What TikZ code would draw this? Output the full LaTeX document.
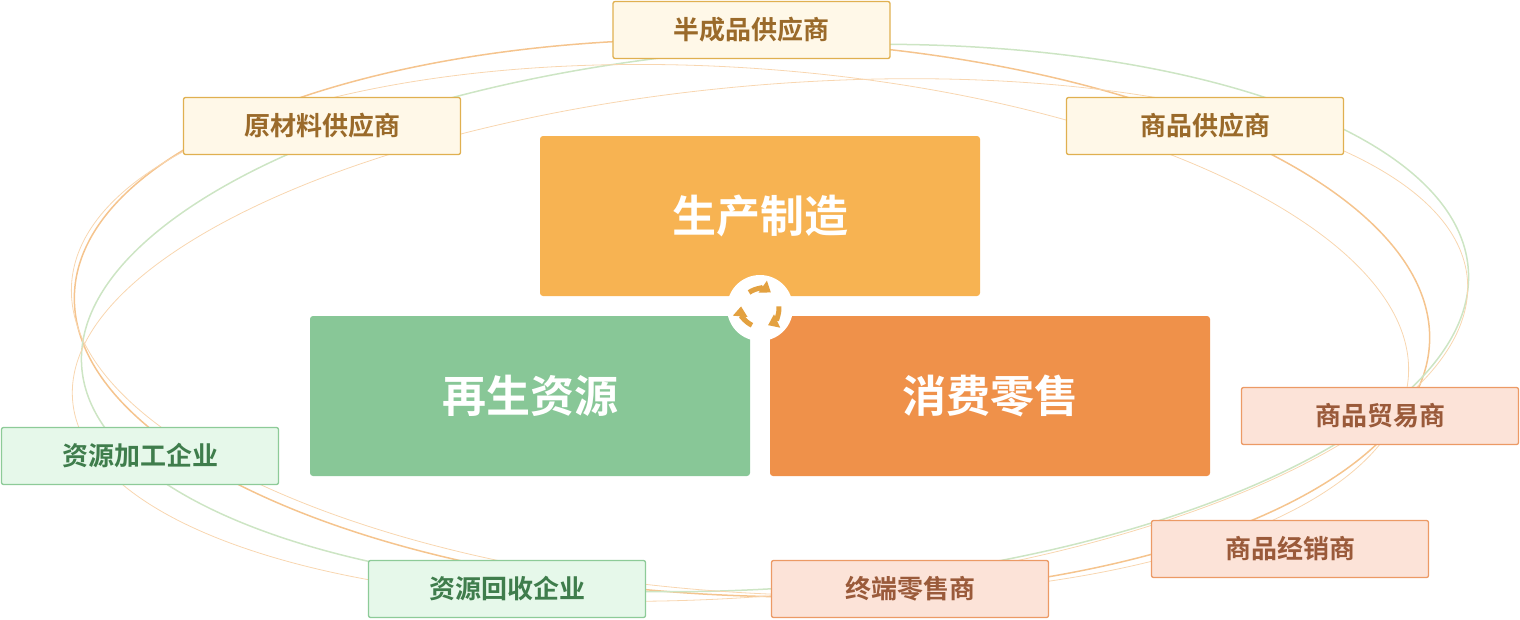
\documentclass[tikz,border=0pt]{standalone}
\usepackage{fontspec}
\newfontfamily\cjk{Noto Sans CJK SC Bold}
\usetikzlibrary{arrows.meta}
\definecolor{ylF}{HTML}{FFF8E8}\definecolor{ylD}{HTML}{E0B050}\definecolor{ylT}{HTML}{9A6A2A}
\definecolor{grF}{HTML}{E6F8EA}\definecolor{grD}{HTML}{8DCB98}\definecolor{grT}{HTML}{3F7D4C}
\definecolor{pkF}{HTML}{FCE3D8}\definecolor{pkD}{HTML}{EC9A65}\definecolor{pkT}{HTML}{9A5A3A}
\definecolor{mainY}{HTML}{F7B352}\definecolor{mainG}{HTML}{88C797}\definecolor{mainO}{HTML}{EF914A}
\definecolor{ringO}{HTML}{F5C48E}\definecolor{ringG}{HTML}{CDE5C4}\definecolor{icon}{HTML}{E3A140}
\tikzset{
 lab/.style={draw=#1D,fill=#1F,text=#1T,line width=1.3pt,rounded corners=2pt,minimum width=277pt,minimum height=57pt,font=\cjk\fontsize{26}{30}\selectfont,inner sep=0pt},
 big/.style={fill=#1,rounded corners=3pt,minimum width=440pt,minimum height=160pt,text=white,font=\cjk\fontsize{44}{50}\selectfont,inner sep=0pt},
}
\begin{document}
\begin{tikzpicture}[x=1pt,y=-1pt]
\useasboundingbox (0,0) rectangle (1520,619);
\draw[ringO,line width=1.5pt,rotate around={-2:(752,318)}] (752,318) ellipse [x radius=678,y radius=278];
\draw[ringG,line width=1.5pt,rotate around={4:(775,318)}] (775,318) ellipse [x radius=695,y radius=270];
\draw[ringO!70,line width=0.8pt,rotate around={5:(770,340)}] (770,340) ellipse [x radius=700,y radius=255];
\draw[ringO!70,line width=0.8pt,rotate around={-4:(740,330)}] (740,330) ellipse [x radius=670,y radius=262];
\node[big=mainY] (a) at (760,216) {生产制造};
\node[big=mainG] (b) at (530,396) {再生资源};
\node[big=mainO] (c) at (990,396) {消费零售};
\node[circle,fill=white,minimum size=66pt,inner sep=0pt] (ic) at (760,308) {};
\foreach \s in {90,210,330}{
 \draw[icon,line width=5pt,-{Triangle[length=10pt,width=14pt]}] (ic.center) ++(\s+25:19) arc[start angle=\s+25,end angle=\s+95,radius=19];
}
\node[lab=yl] (n1) at (751.5,30) {半成品供应商};
\node[lab=yl] (n2) at (322,126) {原材料供应商};
\node[lab=yl] (n3) at (1205,126) {商品供应商};
\node[lab=gr] (n4) at (140,456) {资源加工企业};
\node[lab=gr] (n5) at (507,589) {资源回收企业};
\node[lab=pk] (n6) at (910,589) {终端零售商};
\node[lab=pk] (n7) at (1290,549) {商品经销商};
\node[lab=pk] (n8) at (1380,416) {商品贸易商};
\end{tikzpicture}
\end{document}
